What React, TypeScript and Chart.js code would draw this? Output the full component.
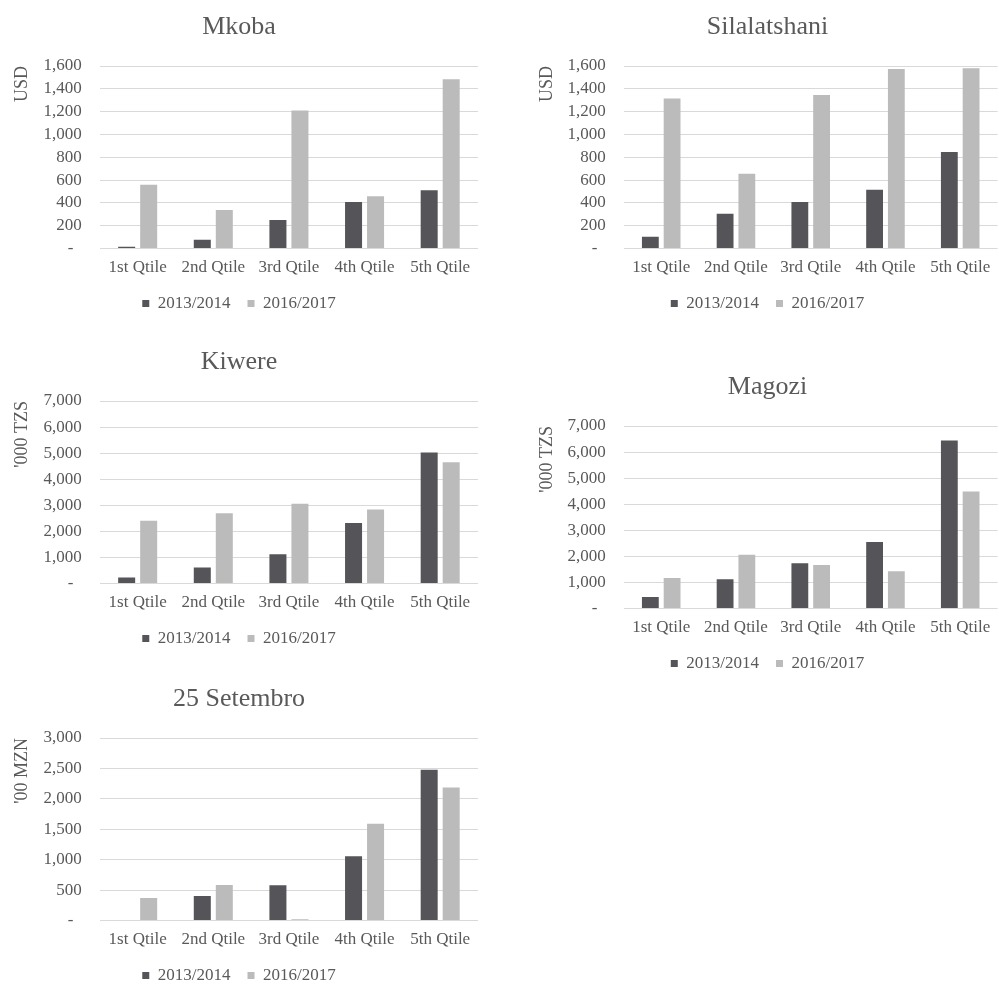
import React, { useEffect, useRef } from 'react';
import { Chart, registerables } from 'chart.js';

Chart.register(...registerables);

const categories = ['1st Qtile', '2nd Qtile', '3rd Qtile', '4th Qtile', '5th Qtile'];
const seriesLabels = ['2013/2014', '2016/2017'];

const mkoba2013 = [15, 76, 249, 407, 510];
const mkoba2016 = [560, 337, 1210, 457, 1483];
const silalatshani2013 = [103, 305, 407, 516, 847];
const silalatshani2016 = [1316, 656, 1345, 1574, 1580];
const kiwere2013 = [230, 612, 1122, 2321, 5024];
const kiwere2016 = [2410, 2690, 3060, 2843, 4654];
const magozi2013 = [437, 1120, 1737, 2548, 6447];
const magozi2016 = [1171, 2059, 1673, 1428, 4491];
const setembro2013 = [0, 402, 578, 1057, 2477];
const setembro2016 = [369, 583, 22, 1591, 2185];

const FONT = "'Liberation Serif', 'Times New Roman', Times, serif";
const TEXT = '#595959';
const DARK = '#555459';
const LIGHT = '#BBBBBB';

type Spec = {
  title: string;
  yTitle: string;
  a: number[];
  b: number[];
  max: number;
  step: number;
  left: number;
  top: number;
  width: number;
  height: number;
  side: 'L' | 'R';
};

const specs: Spec[] = [
  { title: 'Mkoba', yTitle: 'USD', a: mkoba2013, b: mkoba2016, max: 1600, step: 200, left: 0, top: 0, width: 488, height: 322, side: 'L' },
  { title: 'Silalatshani', yTitle: 'USD', a: silalatshani2013, b: silalatshani2016, max: 1600, step: 200, left: 536, top: 0, width: 463, height: 322, side: 'R' },
  { title: 'Kiwere', yTitle: "'000 TZS", a: kiwere2013, b: kiwere2016, max: 7000, step: 1000, left: 0, top: 335, width: 488, height: 322, side: 'L' },
  { title: 'Magozi', yTitle: "'000 TZS", a: magozi2013, b: magozi2016, max: 7000, step: 1000, left: 536, top: 360, width: 463, height: 322, side: 'R' },
  { title: '25 Setembro', yTitle: "'00 MZN", a: setembro2013, b: setembro2016, max: 3000, step: 500, left: 0, top: 672, width: 488, height: 322, side: 'L' },
];

function makeConfig(s: Spec): any {
  const tickFont = { family: FONT, size: 17 };
  return {
    type: 'bar',
    data: {
      labels: categories,
      datasets: [
        { label: seriesLabels[0], data: s.a, backgroundColor: DARK, categoryPercentage: 0.582, barPercentage: 0.773 },
        { label: seriesLabels[1], data: s.b, backgroundColor: LIGHT, categoryPercentage: 0.582, barPercentage: 0.773 },
      ],
    },
    options: {
      responsive: false,
      animation: false,
      devicePixelRatio: 1,
      layout: { padding: { top: 0, bottom: 0, left: 0, right: s.side === 'L' ? 10 : 0 } },
      plugins: {
        title: {
          display: true,
          text: s.title,
          color: TEXT,
          font: { family: FONT, size: 26, weight: 'normal' },
          padding: { top: 12, bottom: 22.8 },
        },
        legend: {
          position: 'bottom',
          labels: {
            boxWidth: 7,
            boxHeight: 7,
            padding: 8.5,
            color: TEXT,
            font: tickFont,
            generateLabels: (chart: any) =>
              Chart.defaults.plugins.legend.labels
                .generateLabels(chart)
                .map((l: any, i: number) => ({ ...l, text: i === 0 ? l.text + '  ' : l.text })),
          },
        },
        tooltip: { enabled: false },
      },
      scales: {
        x: {
          grid: { display: false, drawTicks: false },
          border: { display: false },
          ticks: { color: TEXT, font: tickFont, padding: 8.8, maxRotation: 0, autoSkip: false },
        },
        y: {
          min: 0,
          max: s.max,
          grid: { color: '#D9D9D9', drawTicks: false },
          border: { display: false },
          ticks: {
            stepSize: s.step,
            autoSkip: false,
            color: TEXT,
            font: tickFont,
            padding: 18,
            callback: (v: any) => (Number(v) === 0 ? '-  ' : Number(v).toLocaleString('en-US')),
          },
          title: {
            display: true,
            text: s.yTitle,
            align: 'end',
            color: TEXT,
            font: { family: FONT, size: 18 },
            padding: s.side === 'L' ? { top: 11, bottom: -7 } : { top: 0, bottom: -8 },
          },
        },
      },
    },
  };
}

function BarPanel({ spec }: { spec: Spec }) {
  const ref = useRef<HTMLCanvasElement | null>(null);
  useEffect(() => {
    if (!ref.current) return;
    const chart = new Chart(ref.current, makeConfig(spec));
    return () => chart.destroy();
  }, [spec]);
  return (
    <div style={{ position: 'absolute', left: spec.left, top: spec.top, width: spec.width, height: spec.height }}>
      <canvas ref={ref} width={spec.width} height={spec.height} />
    </div>
  );
}

export default function App() {
  return (
    <div style={{ position: 'absolute', left: 0, top: 0, width: 999, height: 984, overflow: 'hidden', background: '#ffffff' }}>
      {specs.map((s) => (
        <BarPanel key={s.title} spec={s} />
      ))}
    </div>
  );
}
